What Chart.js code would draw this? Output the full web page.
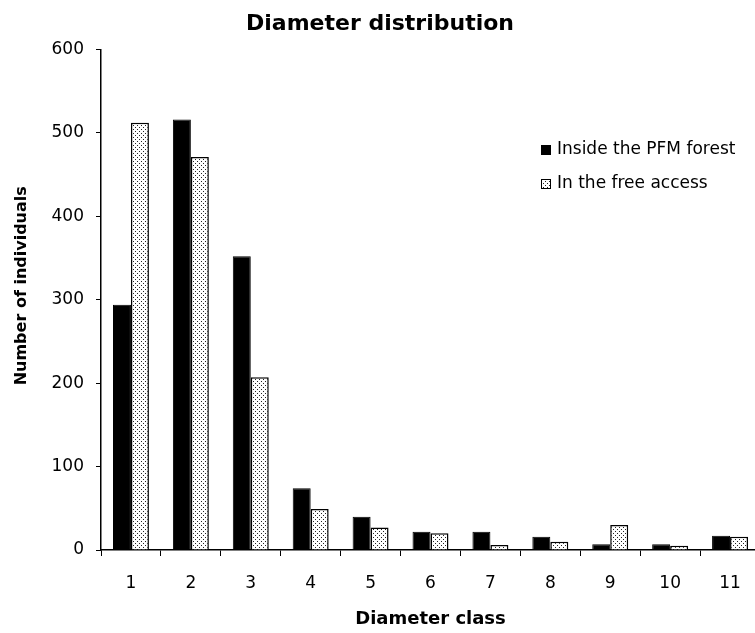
<!DOCTYPE html>
<html lang="en">
<head>
<meta charset="UTF-8">
<title>Diameter distribution</title>
<script src="https://cdn.jsdelivr.net/npm/chart.js"></script>
<style>
  html, body { margin: 0; padding: 0; background: #fff; overflow: hidden; }
  #wrap { width: 760px; height: 633px; }
</style>
</head>
<body>
<div id="wrap"><canvas id="grafico"></canvas></div>
<script>
// data
const classes = ['1', '2', '3', '4', '5', '6', '7', '8', '9', '10', '11'];
const insidePFM = [294, 516, 352, 74, 40, 22, 22, 16, 7, 7, 17];
const freeAccess = [512, 471, 207, 49, 27, 20, 6, 10, 30, 5, 16];
const seriesNames = ['Inside the PFM forest', 'In the free access'];
const yTicks = [0, 100, 200, 300, 400, 500, 600];

// dotted fill for the second series
function dotPattern() {
    const c = document.createElement('canvas');
    c.width = 4; c.height = 4;
    const g = c.getContext('2d');
    g.fillStyle = '#fff';
    g.fillRect(0, 0, 4, 4);
    g.fillStyle = '#222';
    g.fillRect(1, 1, 1, 1);
    g.fillRect(3, 3, 1, 1);
    return g.createPattern(c, 'repeat');
}
const dots = dotPattern();

// legend drawn inside the plot area, top right
const innerLegend = {
    id: 'innerLegend',
    afterDraw(chart, args, opts) {
        const ctx = chart.ctx;
        ctx.save();
        ctx.font = '17px "DejaVu Sans"';
        ctx.textBaseline = 'middle';
        chart.data.datasets.forEach((ds, i) => {
            const y = opts.y + i * opts.gap;
            ctx.fillStyle = ds.backgroundColor;
            ctx.fillRect(opts.x, y - 5, 10, 10);
            ctx.strokeStyle = '#000';
            ctx.lineWidth = 1;
            ctx.strokeRect(opts.x + 0.5, y - 4.5, 9, 9);
            ctx.fillStyle = '#000';
            ctx.fillText(ds.label, opts.x + 16, y);
        });
        ctx.restore();
    }
};

Chart.defaults.font.family = '"DejaVu Sans", sans-serif';
Chart.defaults.color = '#000';

new Chart(document.getElementById('grafico'), {
    type: 'bar',
    data: {
        labels: classes,
        datasets: [
            {
                label: seriesNames[0],
                data: insidePFM,
                backgroundColor: '#000',
                borderColor: '#000',
                borderWidth: 1
            },
            {
                label: seriesNames[1],
                data: freeAccess,
                backgroundColor: dots,
                borderColor: '#000',
                borderWidth: 1.5
            }
        ]
    },
    options: {
        responsive: true,
        maintainAspectRatio: false,
        animation: false,
        layout: { padding: { left: 0, right: 0, top: 0, bottom: 0 } },
        datasets: { bar: { categoryPercentage: 0.6, barPercentage: 1.0 } },
        scales: {
            x: {
                grid: { display: true, drawOnChartArea: false, drawTicks: true, tickLength: 6, color: '#000', offset: true },
                border: { display: true, color: '#000', width: 1.5 },
                ticks: { font: { size: 17 }, padding: 17, maxRotation: 0 },
                title: { display: true, text: 'Diameter class', font: { size: 18, weight: 'bold' }, padding: { top: 0, bottom: 3 } },
                afterFit: (s) => { s.height = 83; }
            },
            y: {
                min: 0,
                max: 600,
                afterBuildTicks: (s) => { s.ticks = yTicks.map(v => ({ value: v })); },
                grid: { display: true, drawOnChartArea: false, drawTicks: true, tickLength: 5, color: '#000' },
                border: { display: true, color: '#000', width: 1.5 },
                ticks: { font: { size: 17 }, padding: 12 },
                // leading spaces nudge the rotated title up a little, as in the original
                title: { display: true, text: '     Number of individuals', font: { size: 16, weight: 'bold' }, padding: { top: 12, bottom: 0 } },
                afterFit: (s) => { s.width = 101; }
            }
        },
        plugins: {
            legend: { display: false },
            tooltip: { enabled: false },
            title: {
                display: true,
                text: 'Diameter distribution',
                font: { size: 22, weight: 'bold' },
                padding: { top: 11, bottom: 12 }
            },
            innerLegend: { x: 541, y: 150, gap: 34 }
        }
    },
    plugins: [innerLegend]
});
</script>
</body>
</html>
